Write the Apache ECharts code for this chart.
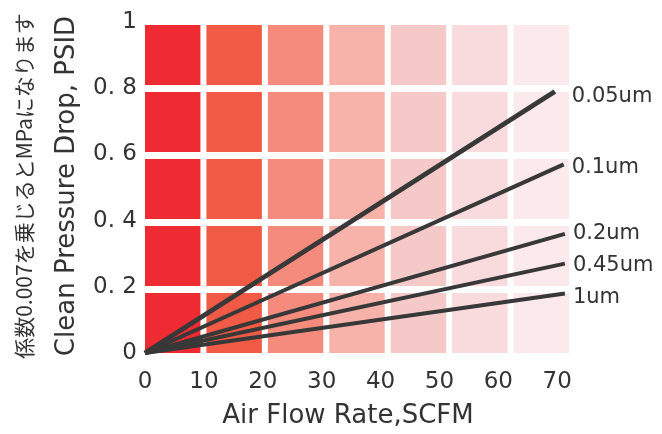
<!DOCTYPE html>
<html>
<head>
<meta charset="utf-8">
<script src="https://cdn.jsdelivr.net/npm/echarts@6/dist/echarts.min.js"></script>
<style>
html,body{margin:0;padding:0;background:#fff;}
#chart{width:662px;height:434px;}
</style>
</head>
<body>
<div id="chart"></div>
<script>
// ---- data ----
const seriesNames = ['0.05um', '0.1um', '0.2um', '0.45um', '1um'];
const lineStart = [0, 0];
const endX = [69.6, 71.1, 71.3, 71.3, 71.3];
const endY = [0.79, 0.57, 0.36, 0.27, 0.18];
const xTicks = [0, 10, 20, 30, 40, 50, 60, 70];
const yTicks = [0, 0.2, 0.4, 0.6, 0.8, 1];
const cellColumnColors = ['#ee2b33', '#f15a45', '#f48b7c', '#f7b2aa', '#f5c9c7', '#fadbdd', '#fbe9ec'];
const cellRows = 5;
const xTitle = 'Air Flow Rate,SCFM';
const yTitle = 'Clean Pressure Drop, PSID';
const yNote = '係数0.007を乗じるとMPaになります';

const xMax = 72, yMax = 1;
const font = 'DejaVu Sans';
const txt = '#333333';

const cellData = [];
for (let c = 0; c < cellColumnColors.length; c++) {
  for (let r = 0; r < cellRows; r++) cellData.push([c, r]);
}

const labelStyles = [
  {offset: [9, 5]},
  {offset: [0, 3]},
  {offset: [0, 0]},
  {offset: [0, 2]},
  {offset: [0, 4]}
];

const lineSeries = seriesNames.map((name, i) => ({
  type: 'line',
  name: name,
  data: [lineStart, [endX[i], endY[i]]],
  showSymbol: false,
  symbol: 'none',
  z: 5,
  lineStyle: {color: '#383838', width: i === 0 ? 5 : 4, cap: 'butt'},
  endLabel: {
    show: true,
    formatter: name,
    distance: 8,
    offset: labelStyles[i].offset,
    fontFamily: font,
    fontSize: 21,
    color: txt
  },
  emphasis: {disabled: true},
  animation: false
}));

const chart = echarts.init(document.getElementById('chart'));
chart.setOption({
  animation: false,
  backgroundColor: '#fff',
  grid: {left: 145, top: 22, width: 424, height: 331, containLabel: false, outerBoundsMode: 'none'},
  xAxis: {
    type: 'value', min: 0, max: xMax, interval: 10,
    axisLine: {show: false}, axisTick: {show: false}, splitLine: {show: false},
    axisLabel: {
      margin: 18, fontFamily: font, fontSize: 23, color: txt,
      formatter: v => xTicks.indexOf(v) >= 0 ? String(v) : ''
    }
  },
  yAxis: {
    type: 'value', min: 0, max: yMax, interval: 0.2,
    axisLine: {show: false}, axisTick: {show: false}, splitLine: {show: false},
    axisLabel: {
      margin: 8, fontFamily: font, fontSize: 23, color: txt,
      formatter: v => {
        const t = yTicks.find(k => Math.abs(k - v) < 1e-9);
        if (t === undefined) return '';
        if (t === 0 || t === 1) return String(t);
        return t.toFixed(1).replace('.', '. ');
      }
    }
  },
  graphic: [
    {type: 'text', x: 348, y: 416, silent: true,
     style: {text: xTitle, textAlign: 'center', textVerticalAlign: 'middle', fontFamily: font, fontSize: 26, fill: txt}},
    {type: 'text', x: 67, y: 186, rotation: Math.PI / 2, silent: true,
     style: {text: yTitle, textAlign: 'center', textVerticalAlign: 'middle', fontFamily: font, fontSize: 26, fill: txt}},
    {type: 'text', x: 24, y: 186, rotation: Math.PI / 2, silent: true,
     style: {text: yNote, textAlign: 'center', textVerticalAlign: 'middle', fontFamily: 'Noto Sans CJK JP', fontSize: 21, fill: txt}}
  ],
  series: [
    {
      type: 'custom',
      silent: true,
      z: 1,
      data: cellData,
      renderItem: function (params, api) {
        const c = api.value(0), r = api.value(1);
        const p0 = api.coord([0, 0]);
        const p1 = api.coord([xMax, yMax]);
        const W = p1[0] - p0[0];
        const gapX = 6, gapY = 7, topInset = 3;
        const nC = cellColumnColors.length;
        const cw = (W - gapX * (nC - 1)) / nC;
        const H = p0[1] - (p1[1] + topInset);
        const ch = (H - gapY * (cellRows - 1)) / cellRows;
        const x = p0[0] + c * (cw + gapX);
        const yBottom = p0[1] - r * (ch + gapY);
        return {
          type: 'rect',
          shape: {x: x, y: yBottom - ch, width: cw, height: ch},
          style: {fill: cellColumnColors[c]}
        };
      },
      animation: false
    }
  ].concat(lineSeries)
});
</script>
</body>
</html>
